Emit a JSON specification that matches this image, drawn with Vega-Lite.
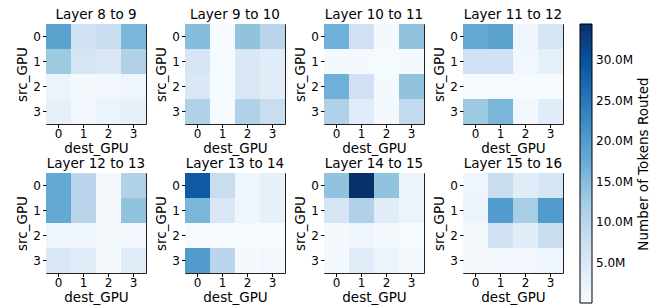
{
  "$schema": "https://vega.github.io/schema/vega-lite/v6.json",
  "padding": {"left": 15, "top": 7, "right": 5, "bottom": 0},
  "background": "white",
  "data": {"values": [
    {"layer": "Layer 8 to 9", "src": 0, "dest": 0, "tokens": 19000000},
    {"layer": "Layer 8 to 9", "src": 0, "dest": 1, "tokens": 7000000},
    {"layer": "Layer 8 to 9", "src": 0, "dest": 2, "tokens": 8000000},
    {"layer": "Layer 8 to 9", "src": 0, "dest": 3, "tokens": 16000000},
    {"layer": "Layer 8 to 9", "src": 1, "dest": 0, "tokens": 13000000},
    {"layer": "Layer 8 to 9", "src": 1, "dest": 1, "tokens": 6000000},
    {"layer": "Layer 8 to 9", "src": 1, "dest": 2, "tokens": 5000000},
    {"layer": "Layer 8 to 9", "src": 1, "dest": 3, "tokens": 11000000},
    {"layer": "Layer 8 to 9", "src": 2, "dest": 0, "tokens": 2000000},
    {"layer": "Layer 8 to 9", "src": 2, "dest": 1, "tokens": 500000},
    {"layer": "Layer 8 to 9", "src": 2, "dest": 2, "tokens": 1000000},
    {"layer": "Layer 8 to 9", "src": 2, "dest": 3, "tokens": 1500000},
    {"layer": "Layer 8 to 9", "src": 3, "dest": 0, "tokens": 3000000},
    {"layer": "Layer 8 to 9", "src": 3, "dest": 1, "tokens": 1000000},
    {"layer": "Layer 8 to 9", "src": 3, "dest": 2, "tokens": 2000000},
    {"layer": "Layer 8 to 9", "src": 3, "dest": 3, "tokens": 3000000},

    {"layer": "Layer 9 to 10", "src": 0, "dest": 0, "tokens": 15000000},
    {"layer": "Layer 9 to 10", "src": 0, "dest": 1, "tokens": 300000},
    {"layer": "Layer 9 to 10", "src": 0, "dest": 2, "tokens": 14000000},
    {"layer": "Layer 9 to 10", "src": 0, "dest": 3, "tokens": 10000000},
    {"layer": "Layer 9 to 10", "src": 1, "dest": 0, "tokens": 6000000},
    {"layer": "Layer 9 to 10", "src": 1, "dest": 1, "tokens": 300000},
    {"layer": "Layer 9 to 10", "src": 1, "dest": 2, "tokens": 5000000},
    {"layer": "Layer 9 to 10", "src": 1, "dest": 3, "tokens": 4000000},
    {"layer": "Layer 9 to 10", "src": 2, "dest": 0, "tokens": 5000000},
    {"layer": "Layer 9 to 10", "src": 2, "dest": 1, "tokens": 300000},
    {"layer": "Layer 9 to 10", "src": 2, "dest": 2, "tokens": 5000000},
    {"layer": "Layer 9 to 10", "src": 2, "dest": 3, "tokens": 4000000},
    {"layer": "Layer 9 to 10", "src": 3, "dest": 0, "tokens": 11000000},
    {"layer": "Layer 9 to 10", "src": 3, "dest": 1, "tokens": 300000},
    {"layer": "Layer 9 to 10", "src": 3, "dest": 2, "tokens": 11000000},
    {"layer": "Layer 9 to 10", "src": 3, "dest": 3, "tokens": 8000000},

    {"layer": "Layer 10 to 11", "src": 0, "dest": 0, "tokens": 17000000},
    {"layer": "Layer 10 to 11", "src": 0, "dest": 1, "tokens": 7000000},
    {"layer": "Layer 10 to 11", "src": 0, "dest": 2, "tokens": 500000},
    {"layer": "Layer 10 to 11", "src": 0, "dest": 3, "tokens": 14000000},
    {"layer": "Layer 10 to 11", "src": 1, "dest": 0, "tokens": 500000},
    {"layer": "Layer 10 to 11", "src": 1, "dest": 1, "tokens": 500000},
    {"layer": "Layer 10 to 11", "src": 1, "dest": 2, "tokens": 300000},
    {"layer": "Layer 10 to 11", "src": 1, "dest": 3, "tokens": 500000},
    {"layer": "Layer 10 to 11", "src": 2, "dest": 0, "tokens": 17000000},
    {"layer": "Layer 10 to 11", "src": 2, "dest": 1, "tokens": 7000000},
    {"layer": "Layer 10 to 11", "src": 2, "dest": 2, "tokens": 500000},
    {"layer": "Layer 10 to 11", "src": 2, "dest": 3, "tokens": 14000000},
    {"layer": "Layer 10 to 11", "src": 3, "dest": 0, "tokens": 11000000},
    {"layer": "Layer 10 to 11", "src": 3, "dest": 1, "tokens": 4000000},
    {"layer": "Layer 10 to 11", "src": 3, "dest": 2, "tokens": 500000},
    {"layer": "Layer 10 to 11", "src": 3, "dest": 3, "tokens": 9000000},

    {"layer": "Layer 11 to 12", "src": 0, "dest": 0, "tokens": 18000000},
    {"layer": "Layer 11 to 12", "src": 0, "dest": 1, "tokens": 19000000},
    {"layer": "Layer 11 to 12", "src": 0, "dest": 2, "tokens": 1500000},
    {"layer": "Layer 11 to 12", "src": 0, "dest": 3, "tokens": 6000000},
    {"layer": "Layer 11 to 12", "src": 1, "dest": 0, "tokens": 7000000},
    {"layer": "Layer 11 to 12", "src": 1, "dest": 1, "tokens": 7000000},
    {"layer": "Layer 11 to 12", "src": 1, "dest": 2, "tokens": 1000000},
    {"layer": "Layer 11 to 12", "src": 1, "dest": 3, "tokens": 3000000},
    {"layer": "Layer 11 to 12", "src": 2, "dest": 0, "tokens": 300000},
    {"layer": "Layer 11 to 12", "src": 2, "dest": 1, "tokens": 300000},
    {"layer": "Layer 11 to 12", "src": 2, "dest": 2, "tokens": 300000},
    {"layer": "Layer 11 to 12", "src": 2, "dest": 3, "tokens": 300000},
    {"layer": "Layer 11 to 12", "src": 3, "dest": 0, "tokens": 13000000},
    {"layer": "Layer 11 to 12", "src": 3, "dest": 1, "tokens": 16000000},
    {"layer": "Layer 11 to 12", "src": 3, "dest": 2, "tokens": 1000000},
    {"layer": "Layer 11 to 12", "src": 3, "dest": 3, "tokens": 4000000},

    {"layer": "Layer 12 to 13", "src": 0, "dest": 0, "tokens": 18000000},
    {"layer": "Layer 12 to 13", "src": 0, "dest": 1, "tokens": 10000000},
    {"layer": "Layer 12 to 13", "src": 0, "dest": 2, "tokens": 500000},
    {"layer": "Layer 12 to 13", "src": 0, "dest": 3, "tokens": 11000000},
    {"layer": "Layer 12 to 13", "src": 1, "dest": 0, "tokens": 18000000},
    {"layer": "Layer 12 to 13", "src": 1, "dest": 1, "tokens": 10000000},
    {"layer": "Layer 12 to 13", "src": 1, "dest": 2, "tokens": 500000},
    {"layer": "Layer 12 to 13", "src": 1, "dest": 3, "tokens": 14000000},
    {"layer": "Layer 12 to 13", "src": 2, "dest": 0, "tokens": 1500000},
    {"layer": "Layer 12 to 13", "src": 2, "dest": 1, "tokens": 1500000},
    {"layer": "Layer 12 to 13", "src": 2, "dest": 2, "tokens": 500000},
    {"layer": "Layer 12 to 13", "src": 2, "dest": 3, "tokens": 1000000},
    {"layer": "Layer 12 to 13", "src": 3, "dest": 0, "tokens": 5000000},
    {"layer": "Layer 12 to 13", "src": 3, "dest": 1, "tokens": 4000000},
    {"layer": "Layer 12 to 13", "src": 3, "dest": 2, "tokens": 500000},
    {"layer": "Layer 12 to 13", "src": 3, "dest": 3, "tokens": 4000000},

    {"layer": "Layer 13 to 14", "src": 0, "dest": 0, "tokens": 29000000},
    {"layer": "Layer 13 to 14", "src": 0, "dest": 1, "tokens": 8000000},
    {"layer": "Layer 13 to 14", "src": 0, "dest": 2, "tokens": 1500000},
    {"layer": "Layer 13 to 14", "src": 0, "dest": 3, "tokens": 3000000},
    {"layer": "Layer 13 to 14", "src": 1, "dest": 0, "tokens": 16000000},
    {"layer": "Layer 13 to 14", "src": 1, "dest": 1, "tokens": 5000000},
    {"layer": "Layer 13 to 14", "src": 1, "dest": 2, "tokens": 1500000},
    {"layer": "Layer 13 to 14", "src": 1, "dest": 3, "tokens": 3000000},
    {"layer": "Layer 13 to 14", "src": 2, "dest": 0, "tokens": 300000},
    {"layer": "Layer 13 to 14", "src": 2, "dest": 1, "tokens": 300000},
    {"layer": "Layer 13 to 14", "src": 2, "dest": 2, "tokens": 300000},
    {"layer": "Layer 13 to 14", "src": 2, "dest": 3, "tokens": 300000},
    {"layer": "Layer 13 to 14", "src": 3, "dest": 0, "tokens": 20000000},
    {"layer": "Layer 13 to 14", "src": 3, "dest": 1, "tokens": 10000000},
    {"layer": "Layer 13 to 14", "src": 3, "dest": 2, "tokens": 500000},
    {"layer": "Layer 13 to 14", "src": 3, "dest": 3, "tokens": 1000000},

    {"layer": "Layer 14 to 15", "src": 0, "dest": 0, "tokens": 14000000},
    {"layer": "Layer 14 to 15", "src": 0, "dest": 1, "tokens": 34500000},
    {"layer": "Layer 14 to 15", "src": 0, "dest": 2, "tokens": 14000000},
    {"layer": "Layer 14 to 15", "src": 0, "dest": 3, "tokens": 2000000},
    {"layer": "Layer 14 to 15", "src": 1, "dest": 0, "tokens": 6000000},
    {"layer": "Layer 14 to 15", "src": 1, "dest": 1, "tokens": 11000000},
    {"layer": "Layer 14 to 15", "src": 1, "dest": 2, "tokens": 4000000},
    {"layer": "Layer 14 to 15", "src": 1, "dest": 3, "tokens": 2000000},
    {"layer": "Layer 14 to 15", "src": 2, "dest": 0, "tokens": 500000},
    {"layer": "Layer 14 to 15", "src": 2, "dest": 1, "tokens": 1500000},
    {"layer": "Layer 14 to 15", "src": 2, "dest": 2, "tokens": 500000},
    {"layer": "Layer 14 to 15", "src": 2, "dest": 3, "tokens": 300000},
    {"layer": "Layer 14 to 15", "src": 3, "dest": 0, "tokens": 500000},
    {"layer": "Layer 14 to 15", "src": 3, "dest": 1, "tokens": 4000000},
    {"layer": "Layer 14 to 15", "src": 3, "dest": 2, "tokens": 2000000},
    {"layer": "Layer 14 to 15", "src": 3, "dest": 3, "tokens": 500000},

    {"layer": "Layer 15 to 16", "src": 0, "dest": 0, "tokens": 1500000},
    {"layer": "Layer 15 to 16", "src": 0, "dest": 1, "tokens": 8000000},
    {"layer": "Layer 15 to 16", "src": 0, "dest": 2, "tokens": 4000000},
    {"layer": "Layer 15 to 16", "src": 0, "dest": 3, "tokens": 6000000},
    {"layer": "Layer 15 to 16", "src": 1, "dest": 0, "tokens": 2000000},
    {"layer": "Layer 15 to 16", "src": 1, "dest": 1, "tokens": 20000000},
    {"layer": "Layer 15 to 16", "src": 1, "dest": 2, "tokens": 12000000},
    {"layer": "Layer 15 to 16", "src": 1, "dest": 3, "tokens": 20000000},
    {"layer": "Layer 15 to 16", "src": 2, "dest": 0, "tokens": 500000},
    {"layer": "Layer 15 to 16", "src": 2, "dest": 1, "tokens": 7000000},
    {"layer": "Layer 15 to 16", "src": 2, "dest": 2, "tokens": 4000000},
    {"layer": "Layer 15 to 16", "src": 2, "dest": 3, "tokens": 8000000},
    {"layer": "Layer 15 to 16", "src": 3, "dest": 0, "tokens": 500000},
    {"layer": "Layer 15 to 16", "src": 3, "dest": 1, "tokens": 1000000},
    {"layer": "Layer 15 to 16", "src": 3, "dest": 2, "tokens": 1000000},
    {"layer": "Layer 15 to 16", "src": 3, "dest": 3, "tokens": 1500000}
  ]},
  "facet": {
    "field": "layer",
    "type": "nominal",
    "sort": ["Layer 8 to 9", "Layer 9 to 10", "Layer 10 to 11", "Layer 11 to 12", "Layer 12 to 13", "Layer 13 to 14", "Layer 14 to 15", "Layer 15 to 16"],
    "header": {"title": null, "labelFontSize": 13.5, "labelFont": "DejaVu Sans", "labelColor": "#000", "labelPadding": 3}
  },
  "columns": 4,
  "spacing": {"column": 7, "row": 0},
  "resolve": {"axis": {"x": "independent", "y": "independent"}},
  "spec": {
    "width": 100,
    "height": 100,
    "mark": {"type": "rect"},
    "encoding": {
      "x": {"field": "dest", "type": "ordinal", "title": "dest_GPU",
            "scale": {"paddingInner": 0, "paddingOuter": 0},
            "axis": {"labelAngle": 0, "domain": false, "tickSize": 3.5, "tickColor": "#000", "labelPadding": 1, "titlePadding": 2}},
      "y": {"field": "src", "type": "ordinal", "title": "src_GPU",
            "scale": {"paddingInner": 0, "paddingOuter": 0},
            "axis": {"domain": false, "tickSize": 3.5, "tickColor": "#000", "labelPadding": 2, "titlePadding": 3}},
      "color": {"field": "tokens", "type": "quantitative",
        "scale": {
          "domain": [0, 4312500, 8625000, 12937500, 17250000, 21562500, 25875000, 30187500, 34500000],
          "range": ["#f7fbff", "#deebf7", "#c6dbef", "#9ecae1", "#6baed6", "#4292c6", "#2171b5", "#08519c", "#08306b"]
        },
        "legend": {
          "title": "Number of Tokens Routed",
          "orient": "right",
          "offset": 16,
          "direction": "vertical",
          "gradientLength": 279,
          "gradientThickness": 12,
          "gradientStrokeColor": "#000",
          "gradientStrokeWidth": 1,
          "values": [5000000, 10000000, 15000000, 20000000, 25000000, 30000000],
          "labelExpr": "format(datum.value / 1000000, '.1f') + 'M'",
          "labelFontSize": 12,
          "labelFont": "DejaVu Sans",
          "labelColor": "#000",
          "labelOffset": 4,
          "titleOrient": "right",
          "titleAnchor": "middle",
          "titleFontSize": 13.5,
          "titleFont": "DejaVu Sans",
          "titleFontWeight": "normal",
          "titleColor": "#000",
          "titlePadding": 4,
          "encoding": {"title": {"angle": {"value": -90}, "baseline": {"value": "top"}}}
        }
      }
    }
  },
  "config": {
    "view": {"stroke": "#222", "strokeWidth": 1},
    "axis": {"labelFont": "DejaVu Sans", "titleFont": "DejaVu Sans", "labelFontSize": 12, "titleFontSize": 13.5, "titleFontWeight": "normal", "labelColor": "#000", "titleColor": "#000"}
  }
}
